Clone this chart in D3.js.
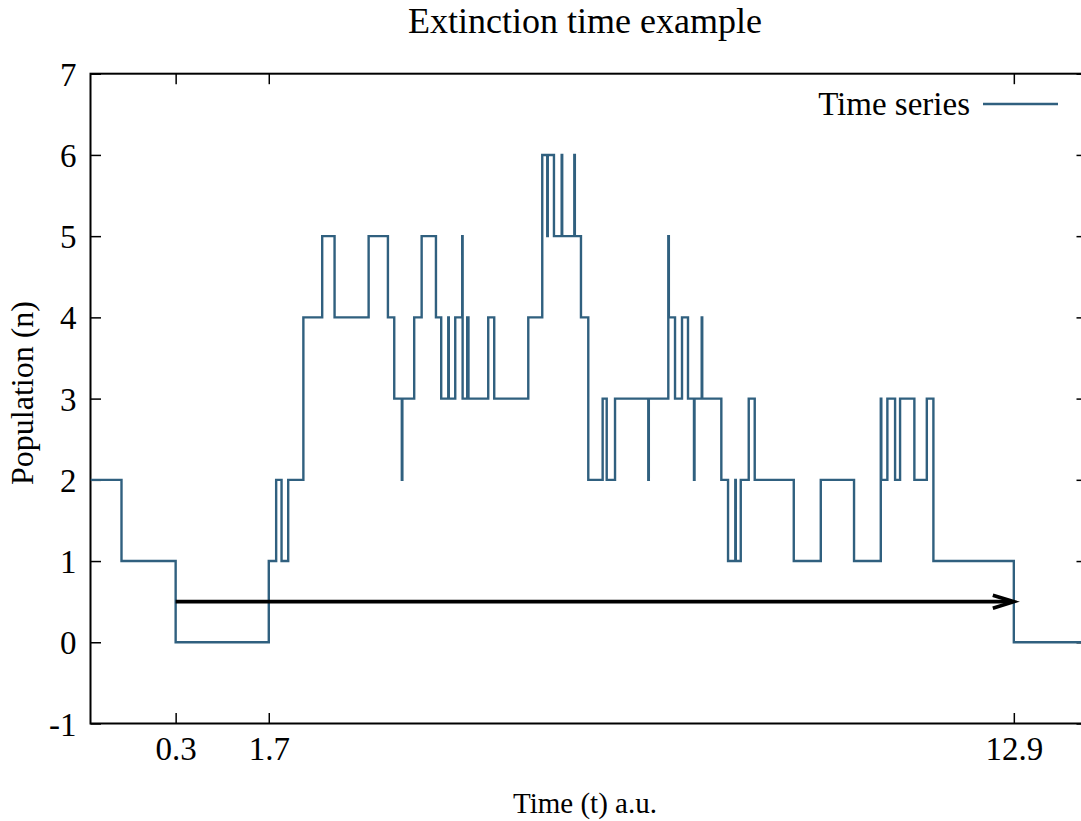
<!DOCTYPE html>
<html>
<head>
<meta charset="utf-8">
<script src="https://cdn.jsdelivr.net/npm/d3@7"></script>
<style>
  body { margin: 0; background: #fff; }
  text { font-family: "Liberation Serif", "Times New Roman", serif; fill: #000; }
</style>
</head>
<body>
<script>
// step data: time of each jump and the population after it
var times = [-0.98, -0.514, 0.3, 1.7, 1.811, 1.892, 1.992, 2.220, 2.503, 2.689, 3.201, 3.491, 3.586, 3.700, 3.708,
  3.886, 3.998, 4.213, 4.292, 4.398, 4.406, 4.503, 4.608, 4.614, 4.683, 4.702, 4.999, 5.089, 5.601, 5.811,
  5.886, 5.894, 5.987, 6.103, 6.111, 6.293, 6.301, 6.393, 6.503, 6.719, 6.780, 6.905, 7.405, 7.413, 7.706,
  7.714, 7.807, 7.912, 8.002, 8.092, 8.100, 8.208, 8.216, 8.503, 8.604, 8.713, 8.721, 8.795, 8.915, 9.005,
  9.592, 9.998, 10.498, 10.900, 10.908, 10.999, 11.115, 11.190, 11.405, 11.592, 11.691, 12.9, 14.0];
var population = [2, 1, 0, 1, 2, 1, 2, 4, 5, 4, 5, 4, 3, 2, 3,
  4, 5, 4, 3, 4, 3, 4, 5, 3, 4, 3, 4, 3, 4, 6,
  5, 6, 5, 6, 5, 6, 5, 4, 2, 3, 2, 3, 2, 3, 5,
  4, 3, 4, 3, 2, 3, 4, 3, 2, 1, 2, 1, 2, 3, 2,
  1, 2, 1, 3, 2, 3, 2, 3, 2, 3, 1, 0, 0];

var xTicks = [0.3, 1.7, 12.9];
var yTicks = [-1, 0, 1, 2, 3, 4, 5, 6, 7];
var arrowStart = [0.3, 0.5];
var arrowEnd = [12.9, 0.5];

var width = 1081;
var height = 821;
var pLeft = 90.5, pRight = 1087, pTop = 73.7, pBottom = 723.5;

var svg = d3.select("body").append("svg")
    .attr("width", width)
    .attr("height", height);

var x = d3.scaleLinear().domain([-0.98, 14.0]).range([pLeft, pRight]);
var y = d3.scaleLinear().domain([-1, 7]).range([pBottom, pTop]);

svg.append("defs").append("clipPath").attr("id", "plotClip")
  .append("rect")
    .attr("x", pLeft).attr("y", pTop)
    .attr("width", pRight - pLeft).attr("height", pBottom - pTop);

// title
svg.append("text")
    .attr("x", 585)
    .attr("y", 33)
    .attr("text-anchor", "middle")
    .style("font-size", "36px")
    .text("Extinction time example");

// axes, ticks pointing inward on all four sides (gnuplot style)
var fontTicks = "33px";
var gLeft = svg.append("g").attr("transform", "translate(" + pLeft + ",0)")
    .call(d3.axisLeft(y).tickValues(yTicks).tickSizeInner(-10.5).tickSizeOuter(0).tickPadding(14)
      .tickFormat(function(d){ return String(d); }));
var gRight = svg.append("g").attr("transform", "translate(" + pRight + ",0)")
    .call(d3.axisRight(y).tickValues(yTicks).tickSizeInner(-10.5).tickSizeOuter(0).tickFormat(""));
var gBottom = svg.append("g").attr("transform", "translate(0," + pBottom + ")")
    .call(d3.axisBottom(x).tickValues(xTicks).tickSizeInner(-10.5).tickSizeOuter(0).tickPadding(13).tickFormat(d3.format(".1f")));
var gTop = svg.append("g").attr("transform", "translate(0," + pTop + ")")
    .call(d3.axisTop(x).tickValues(xTicks).tickSizeInner(-10.5).tickSizeOuter(0).tickFormat(""));

[gLeft, gRight, gBottom, gTop].forEach(function(g){
    g.select(".domain").remove();
    g.selectAll(".tick line").attr("stroke", "#000").attr("stroke-width", 1.5);
    g.selectAll("text")
      .style("font-family", "'Liberation Serif', serif")
      .style("font-size", fontTicks)
      .attr("fill", "#000");
});
gLeft.selectAll("text").attr("dy", "0.35em");

// plot border
svg.append("rect")
    .attr("x", pLeft).attr("y", pTop)
    .attr("width", pRight - pLeft).attr("height", pBottom - pTop)
    .attr("fill", "none")
    .attr("stroke", "#000")
    .attr("stroke-width", 2);

// the time series
var pts = times.map(function(t, i){ return [t, population[i]]; });
var line = d3.line()
    .x(function(d){ return x(d[0]); })
    .y(function(d){ return y(d[1]); })
    .curve(d3.curveStepAfter);

svg.append("path")
    .datum(pts)
    .attr("clip-path", "url(#plotClip)")
    .attr("d", line)
    .attr("fill", "none")
    .attr("stroke", "#30607f")
    .attr("stroke-width", 2.4)
    .attr("stroke-linejoin", "miter");

// extinction arrow
var ax1 = x(arrowStart[0]), ax2 = x(arrowEnd[0]), ay = y(arrowStart[1]);
svg.append("line")
    .attr("x1", ax1).attr("y1", ay)
    .attr("x2", ax2 - 2).attr("y2", ay)
    .attr("stroke", "#000")
    .attr("stroke-width", 3.6);
svg.append("path")
    .attr("d", "M" + (ax2 - 21) + "," + (ay - 6.5) + "L" + ax2 + "," + ay + "L" + (ax2 - 21) + "," + (ay + 6.5))
    .attr("fill", "none")
    .attr("stroke", "#000")
    .attr("stroke-width", 3.6)
    .attr("stroke-linejoin", "miter");

// axis labels
svg.append("text")
    .attr("x", 585)
    .attr("y", 813)
    .attr("text-anchor", "middle")
    .style("font-size", "29px")
    .text("Time (t) a.u.");

svg.append("text")
    .attr("transform", "translate(33,393) rotate(-90)")
    .attr("text-anchor", "middle")
    .style("font-size", "32px")
    .text("Population (n)");

// legend
svg.append("text")
    .attr("x", 970)
    .attr("y", 115)
    .attr("text-anchor", "end")
    .style("font-size", "33px")
    .text("Time series");
svg.append("line")
    .attr("x1", 983).attr("x2", 1058)
    .attr("y1", 104).attr("y2", 104)
    .attr("stroke", "#30607f")
    .attr("stroke-width", 2.4);
</script>
</body>
</html>
